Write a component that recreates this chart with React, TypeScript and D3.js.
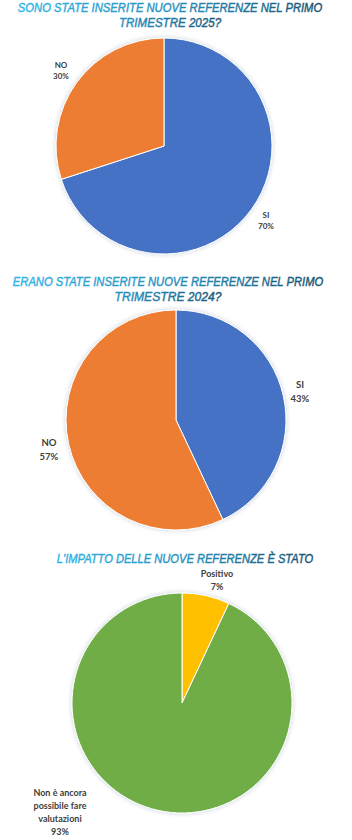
import React, { useLayoutEffect, useRef, useState } from 'react';
import * as d3 from 'd3';

const W = 352;
const H = 840;

// dati
const titles1 = ['SONO STATE INSERITE NUOVE REFERENZE NEL PRIMO', 'TRIMESTRE 2025?'];
const labels1 = ['SI', 'NO'];
const values1 = [70, 30];
const colors1 = ['#4472C4', '#ED7D31'];

const titles2 = ['ERANO STATE INSERITE NUOVE REFERENZE NEL PRIMO', 'TRIMESTRE 2024?'];
const labels2 = ['SI', 'NO'];
const values2 = [43, 57];
const colors2 = ['#4472C4', '#ED7D31'];

const titles3 = ["L'IMPATTO DELLE NUOVE REFERENZE È STATO"];
const labels3 = ['Positivo', 'Non è ancora possibile fare valutazioni'];
const values3 = [7, 93];
const colors3 = ['#FFC000', '#70AD47'];

interface LabelPos { x: number; y: number; lines: string[] }

interface PieProps {
  cx: number;
  cy: number;
  r: number;
  values: number[];
  colors: string[];
  labelPos: LabelPos[];
  fontSize: number;
  lineGap: number;
}

const Pie: React.FC<PieProps> = ({ cx, cy, r, values, colors, labelPos, fontSize, lineGap }) => {
  const pie = d3.pie<number>().sort(null).value(d => d);
  const arc = d3.arc<d3.PieArcDatum<number>>().innerRadius(0).outerRadius(r);
  const arcs = pie(values);
  return (
    <g>
      <g transform={`translate(${cx},${cy})`} filter="url(#glow)">
        {arcs.map((a, i) => (
          <path key={i} d={arc(a) ?? ''} fill={colors[i]} stroke="#fff" strokeWidth={1} />
        ))}
      </g>
      {labelPos.map((lp, i) => (
        <text
          key={i}
          x={lp.x}
          y={lp.y}
          textAnchor="middle"
          fontFamily="Lato, 'Open Sans', sans-serif"
          fontWeight="bold"
          fontSize={fontSize}
          fill="#404040"
        >
          {lp.lines.map((l, j) => (
            <tspan key={j} x={lp.x} dy={j === 0 ? 0 : lineGap}>{l}</tspan>
          ))}
        </text>
      ))}
    </g>
  );
};

// titolo compresso orizzontalmente fino alla larghezza voluta
const Title: React.FC<{ lines: string[]; y: number; x: number; widths: number[] }> = ({ lines, y, x, widths }) => {
  const refs = useRef<(SVGTextElement | null)[]>([]);
  const [scales, setScales] = useState<number[]>(lines.map(() => 0.78));
  useLayoutEffect(() => {
    const s = lines.map((_, i) => {
      const el = refs.current[i];
      if (!el) return 0.78;
      const len = el.getComputedTextLength();
      return len > 0 ? widths[i] / len : 0.78;
    });
    setScales(s);
  }, []);
  return (
    <g>
      {lines.map((l, i) => {
        const grad = i === 0 || lines.length === 1 ? 'url(#tg1)' : 'url(#tg2)';
        return (
          <g key={i} transform={`translate(${x},${y + i * 14.5}) scale(${scales[i]},1)`}>
            <text
              ref={el => { refs.current[i] = el; }}
              x={0}
              y={0}
              textAnchor="middle"
              fontFamily="'Liberation Sans', Arial, sans-serif"
              fontStyle="italic"
              fontSize={12.5}
              fill={grad}
              stroke={grad}
              strokeWidth={0.4}
            >
              {l}
            </text>
          </g>
        );
      })}
    </g>
  );
};

export default function App() {
  return (
    <div style={{ position: 'absolute', left: 0, top: 0 }}>
      <svg width={W} height={H} style={{ display: 'block', background: '#fff' }}>
        <defs>
          <filter id="glow" x="-10%" y="-10%" width="120%" height="120%">
            <feGaussianBlur in="SourceAlpha" stdDeviation="2" />
            <feOffset dx="0" dy="0" result="b" />
            <feFlood floodColor="#1a3a6a" floodOpacity="0.25" />
            <feComposite in2="b" operator="in" />
            <feMerge>
              <feMergeNode />
              <feMergeNode in="SourceGraphic" />
            </feMerge>
          </filter>
          <linearGradient id="sep" x1="0" x2="1">
            <stop offset="0" stopColor="#7d97a3" />
            <stop offset="1" stopColor="#37474f" />
          </linearGradient>
          <linearGradient id="tg1" x1="0" x2="1" y1="0" y2="0">
            <stop offset="0" stopColor="#30B4E4" />
            <stop offset="0.5" stopColor="#2590BE" />
            <stop offset="1" stopColor="#185470" />
          </linearGradient>
          <linearGradient id="tg2" x1="0" x2="1" y1="0" y2="0">
            <stop offset="0" stopColor="#2792C2" />
            <stop offset="1" stopColor="#1A5A78" />
          </linearGradient>
        </defs>

        <Title lines={titles1} x={170} y={12} widths={[304, 102]} />
        <Pie
          cx={164}
          cy={146}
          r={108}
          values={values1}
          colors={colors1}
          fontSize={8}
          lineGap={10.5}
          labelPos={[
            { x: 266, y: 218, lines: [labels1[0], `${values1[0]}%`] },
            { x: 61, y: 68, lines: [labels1[1], `${values1[1]}%`] },
          ]}
        />

        <line x1={12} x2={325} y1={266} y2={266} stroke="url(#sep)" strokeWidth={1.5} />
        <Title lines={titles2} x={168} y={286} widths={[310, 107]} />
        <Pie
          cx={176}
          cy={420}
          r={110}
          values={values2}
          colors={colors2}
          fontSize={9.5}
          lineGap={13.5}
          labelPos={[
            { x: 300, y: 388, lines: [labels2[0], `${values2[0]}%`] },
            { x: 49, y: 446, lines: [labels2[1], `${values2[1]}%`] },
          ]}
        />

        <line x1={26} x2={340} y1={544} y2={544} stroke="url(#sep)" strokeWidth={1.5} />
        <Title lines={titles3} x={185} y={563} widths={[256]} />
        <Pie
          cx={182}
          cy={703}
          r={110}
          values={values3}
          colors={colors3}
          fontSize={9}
          lineGap={13}
          labelPos={[
            { x: 217, y: 577, lines: [labels3[0], `${values3[0]}%`] },
            { x: 60, y: 796, lines: ['Non è ancora', 'possibile fare', 'valutazioni', `${values3[1]}%`] },
          ]}
        />
      </svg>
    </div>
  );
}
